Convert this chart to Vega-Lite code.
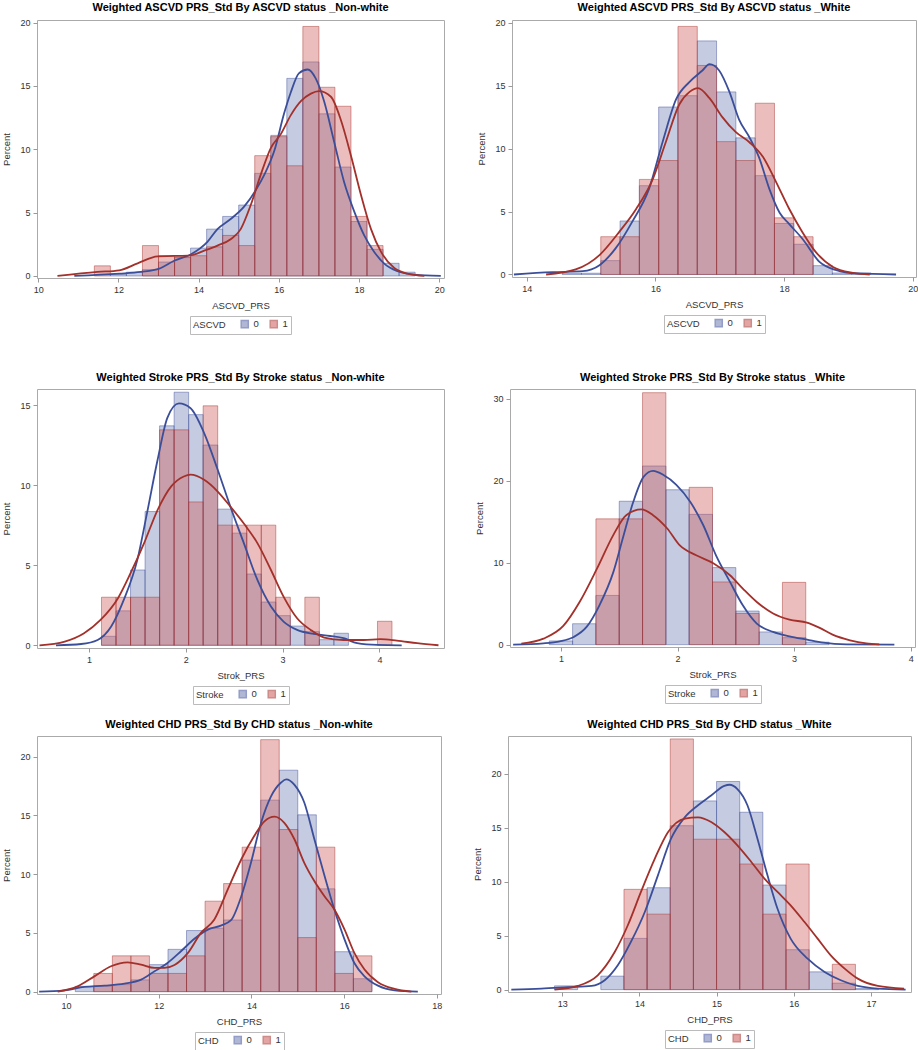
{
"$schema": "https://vega.github.io/schema/vega-lite/v6.json",
"padding": {"left": 1, "top": 1, "right": 0, "bottom": 0},
"background": "white",
"datasets": {
"bars": [
{"p":1,"g":"0","x":11.8,"x2":12.2,"pct":0.15},{"p":1,"g":"0","x":12.2,"x2":12.6,"pct":0.3},{"p":1,"g":"0","x":12.6,"x2":13.0,"pct":0.5},{"p":1,"g":"0","x":13.0,"x2":13.4,"pct":1.1},{"p":1,"g":"0","x":13.4,"x2":13.8,"pct":1.45},{"p":1,"g":"0","x":13.8,"x2":14.2,"pct":2.2},{"p":1,"g":"0","x":14.2,"x2":14.6,"pct":3.7},{"p":1,"g":"0","x":14.6,"x2":15.0,"pct":4.7},{"p":1,"g":"0","x":15.0,"x2":15.4,"pct":5.6},{"p":1,"g":"0","x":15.4,"x2":15.8,"pct":8.1},{"p":1,"g":"0","x":15.8,"x2":16.2,"pct":11.1},{"p":1,"g":"0","x":16.2,"x2":16.6,"pct":15.6},{"p":1,"g":"0","x":16.6,"x2":17.0,"pct":16.9},{"p":1,"g":"0","x":17.0,"x2":17.4,"pct":12.8},{"p":1,"g":"0","x":17.4,"x2":17.8,"pct":8.6},{"p":1,"g":"0","x":17.8,"x2":18.2,"pct":4.3},{"p":1,"g":"0","x":18.2,"x2":18.6,"pct":2.1},{"p":1,"g":"0","x":18.6,"x2":19.0,"pct":1.0},{"p":1,"g":"0","x":19.0,"x2":19.4,"pct":0.3},
{"p":1,"g":"1","x":11.4,"x2":11.8,"pct":0.8},{"p":1,"g":"1","x":12.6,"x2":13.0,"pct":2.4},{"p":1,"g":"1","x":13.0,"x2":13.4,"pct":1.6},{"p":1,"g":"1","x":13.4,"x2":13.8,"pct":1.5},{"p":1,"g":"1","x":13.8,"x2":14.2,"pct":1.6},{"p":1,"g":"1","x":14.2,"x2":14.6,"pct":2.3},{"p":1,"g":"1","x":14.6,"x2":15.0,"pct":3.2},{"p":1,"g":"1","x":15.0,"x2":15.4,"pct":2.4},{"p":1,"g":"1","x":15.4,"x2":15.8,"pct":9.5},{"p":1,"g":"1","x":15.8,"x2":16.2,"pct":11.0},{"p":1,"g":"1","x":16.2,"x2":16.6,"pct":8.7},{"p":1,"g":"1","x":16.6,"x2":17.0,"pct":19.7},{"p":1,"g":"1","x":17.0,"x2":17.4,"pct":14.9},{"p":1,"g":"1","x":17.4,"x2":17.8,"pct":13.4},{"p":1,"g":"1","x":17.8,"x2":18.2,"pct":4.7},{"p":1,"g":"1","x":18.2,"x2":18.6,"pct":2.4},
{"p":2,"g":"0","x":14.55,"x2":14.85,"pct":0.1},{"p":2,"g":"0","x":14.85,"x2":15.15,"pct":0.1},{"p":2,"g":"0","x":15.15,"x2":15.45,"pct":1.1},{"p":2,"g":"0","x":15.45,"x2":15.75,"pct":4.25},{"p":2,"g":"0","x":15.75,"x2":16.05,"pct":7.05},{"p":2,"g":"0","x":16.05,"x2":16.35,"pct":13.3},{"p":2,"g":"0","x":16.35,"x2":16.65,"pct":14.2},{"p":2,"g":"0","x":16.65,"x2":16.95,"pct":18.55},{"p":2,"g":"0","x":16.95,"x2":17.25,"pct":14.5},{"p":2,"g":"0","x":17.25,"x2":17.55,"pct":10.85},{"p":2,"g":"0","x":17.55,"x2":17.85,"pct":7.85},{"p":2,"g":"0","x":17.85,"x2":18.15,"pct":4.05},{"p":2,"g":"0","x":18.15,"x2":18.45,"pct":2.4},{"p":2,"g":"0","x":18.45,"x2":18.75,"pct":0.7},{"p":2,"g":"0","x":18.75,"x2":19.05,"pct":0.12},{"p":2,"g":"0","x":19.05,"x2":19.35,"pct":0.12},
{"p":2,"g":"1","x":15.15,"x2":15.45,"pct":3.0},{"p":2,"g":"1","x":15.45,"x2":15.75,"pct":3.0},{"p":2,"g":"1","x":15.75,"x2":16.05,"pct":7.55},{"p":2,"g":"1","x":16.05,"x2":16.35,"pct":9.05},{"p":2,"g":"1","x":16.35,"x2":16.65,"pct":19.7},{"p":2,"g":"1","x":16.65,"x2":16.95,"pct":16.6},{"p":2,"g":"1","x":16.95,"x2":17.25,"pct":10.55},{"p":2,"g":"1","x":17.25,"x2":17.55,"pct":9.05},{"p":2,"g":"1","x":17.55,"x2":17.85,"pct":13.6},{"p":2,"g":"1","x":17.85,"x2":18.15,"pct":4.5},{"p":2,"g":"1","x":18.15,"x2":18.45,"pct":3.0},
{"p":3,"g":"0","x":1.13,"x2":1.28,"pct":0.56},{"p":3,"g":"0","x":1.28,"x2":1.43,"pct":2.15},{"p":3,"g":"0","x":1.43,"x2":1.58,"pct":4.7},{"p":3,"g":"0","x":1.58,"x2":1.73,"pct":8.35},{"p":3,"g":"0","x":1.73,"x2":1.88,"pct":13.7},{"p":3,"g":"0","x":1.88,"x2":2.03,"pct":15.8},{"p":3,"g":"0","x":2.03,"x2":2.18,"pct":14.4},{"p":3,"g":"0","x":2.18,"x2":2.33,"pct":12.5},{"p":3,"g":"0","x":2.33,"x2":2.48,"pct":8.5},{"p":3,"g":"0","x":2.48,"x2":2.63,"pct":7.0},{"p":3,"g":"0","x":2.63,"x2":2.78,"pct":4.45},{"p":3,"g":"0","x":2.78,"x2":2.93,"pct":2.7},{"p":3,"g":"0","x":2.93,"x2":3.08,"pct":1.85},{"p":3,"g":"0","x":3.08,"x2":3.23,"pct":1.2},{"p":3,"g":"0","x":3.23,"x2":3.38,"pct":0.85},{"p":3,"g":"0","x":3.38,"x2":3.53,"pct":0.35},{"p":3,"g":"0","x":3.53,"x2":3.68,"pct":0.75},
{"p":3,"g":"1","x":1.13,"x2":1.28,"pct":3.0},{"p":3,"g":"1","x":1.28,"x2":1.43,"pct":3.0},{"p":3,"g":"1","x":1.43,"x2":1.58,"pct":3.0},{"p":3,"g":"1","x":1.58,"x2":1.73,"pct":3.0},{"p":3,"g":"1","x":1.73,"x2":1.88,"pct":13.45},{"p":3,"g":"1","x":1.88,"x2":2.03,"pct":13.45},{"p":3,"g":"1","x":2.03,"x2":2.18,"pct":8.95},{"p":3,"g":"1","x":2.18,"x2":2.33,"pct":14.95},{"p":3,"g":"1","x":2.33,"x2":2.48,"pct":7.5},{"p":3,"g":"1","x":2.48,"x2":2.63,"pct":7.5},{"p":3,"g":"1","x":2.63,"x2":2.78,"pct":7.5},{"p":3,"g":"1","x":2.78,"x2":2.93,"pct":7.5},{"p":3,"g":"1","x":2.93,"x2":3.08,"pct":3.0},{"p":3,"g":"1","x":3.23,"x2":3.38,"pct":3.0},{"p":3,"g":"1","x":3.98,"x2":4.13,"pct":1.5},
{"p":4,"g":"0","x":0.9,"x2":1.1,"pct":0.45},{"p":4,"g":"0","x":1.1,"x2":1.3,"pct":2.55},{"p":4,"g":"0","x":1.3,"x2":1.5,"pct":6.0},{"p":4,"g":"0","x":1.5,"x2":1.7,"pct":17.5},{"p":4,"g":"0","x":1.7,"x2":1.9,"pct":21.8},{"p":4,"g":"0","x":1.9,"x2":2.1,"pct":18.9},{"p":4,"g":"0","x":2.1,"x2":2.3,"pct":15.9},{"p":4,"g":"0","x":2.3,"x2":2.5,"pct":9.4},{"p":4,"g":"0","x":2.5,"x2":2.7,"pct":4.1},{"p":4,"g":"0","x":2.7,"x2":2.9,"pct":1.55},{"p":4,"g":"0","x":2.9,"x2":3.1,"pct":0.85},{"p":4,"g":"0","x":3.1,"x2":3.3,"pct":0.3},
{"p":4,"g":"1","x":1.3,"x2":1.5,"pct":15.35},{"p":4,"g":"1","x":1.5,"x2":1.7,"pct":15.35},{"p":4,"g":"1","x":1.7,"x2":1.9,"pct":30.75},{"p":4,"g":"1","x":2.1,"x2":2.3,"pct":19.2},{"p":4,"g":"1","x":2.3,"x2":2.5,"pct":7.65},{"p":4,"g":"1","x":2.5,"x2":2.7,"pct":3.8},{"p":4,"g":"1","x":2.9,"x2":3.1,"pct":7.6},
{"p":5,"g":"0","x":10.2,"x2":10.6,"pct":0.45},{"p":5,"g":"0","x":10.6,"x2":11.0,"pct":0.5},{"p":5,"g":"0","x":11.0,"x2":11.4,"pct":0.6},{"p":5,"g":"0","x":11.4,"x2":11.8,"pct":1.0},{"p":5,"g":"0","x":11.8,"x2":12.2,"pct":2.3},{"p":5,"g":"0","x":12.2,"x2":12.6,"pct":3.6},{"p":5,"g":"0","x":12.6,"x2":13.0,"pct":5.2},{"p":5,"g":"0","x":13.0,"x2":13.4,"pct":5.4},{"p":5,"g":"0","x":13.4,"x2":13.8,"pct":6.1},{"p":5,"g":"0","x":13.8,"x2":14.2,"pct":11.2},{"p":5,"g":"0","x":14.2,"x2":14.6,"pct":16.3},{"p":5,"g":"0","x":14.6,"x2":15.0,"pct":18.85},{"p":5,"g":"0","x":15.0,"x2":15.4,"pct":15.05},{"p":5,"g":"0","x":15.4,"x2":15.8,"pct":8.75},{"p":5,"g":"0","x":15.8,"x2":16.2,"pct":3.4},{"p":5,"g":"0","x":16.2,"x2":16.6,"pct":1.1},
{"p":5,"g":"1","x":10.6,"x2":11.0,"pct":1.55},{"p":5,"g":"1","x":11.0,"x2":11.4,"pct":3.05},{"p":5,"g":"1","x":11.4,"x2":11.8,"pct":3.05},{"p":5,"g":"1","x":11.8,"x2":12.2,"pct":1.55},{"p":5,"g":"1","x":12.2,"x2":12.6,"pct":1.55},{"p":5,"g":"1","x":12.6,"x2":13.0,"pct":3.05},{"p":5,"g":"1","x":13.0,"x2":13.4,"pct":7.7},{"p":5,"g":"1","x":13.4,"x2":13.8,"pct":9.2},{"p":5,"g":"1","x":13.8,"x2":14.2,"pct":12.3},{"p":5,"g":"1","x":14.2,"x2":14.6,"pct":21.45},{"p":5,"g":"1","x":14.6,"x2":15.0,"pct":13.8},{"p":5,"g":"1","x":15.0,"x2":15.4,"pct":4.6},{"p":5,"g":"1","x":15.4,"x2":15.8,"pct":12.3},{"p":5,"g":"1","x":15.8,"x2":16.2,"pct":1.55},{"p":5,"g":"1","x":16.2,"x2":16.6,"pct":3.05},
{"p":6,"g":"0","x":12.9,"x2":13.2,"pct":0.35},{"p":6,"g":"0","x":13.5,"x2":13.8,"pct":1.25},{"p":6,"g":"0","x":13.8,"x2":14.1,"pct":4.75},{"p":6,"g":"0","x":14.1,"x2":14.4,"pct":9.45},{"p":6,"g":"0","x":14.4,"x2":14.7,"pct":15.2},{"p":6,"g":"0","x":14.7,"x2":15.0,"pct":17.5},{"p":6,"g":"0","x":15.0,"x2":15.3,"pct":19.3},{"p":6,"g":"0","x":15.3,"x2":15.6,"pct":16.45},{"p":6,"g":"0","x":15.6,"x2":15.9,"pct":9.7},{"p":6,"g":"0","x":15.9,"x2":16.2,"pct":3.7},{"p":6,"g":"0","x":16.2,"x2":16.5,"pct":1.65},{"p":6,"g":"0","x":16.5,"x2":16.8,"pct":0.6},{"p":6,"g":"0","x":16.8,"x2":17.1,"pct":0.1},
{"p":6,"g":"1","x":13.8,"x2":14.1,"pct":9.3},{"p":6,"g":"1","x":14.1,"x2":14.4,"pct":7.0},{"p":6,"g":"1","x":14.4,"x2":14.7,"pct":23.25},{"p":6,"g":"1","x":14.7,"x2":15.0,"pct":13.95},{"p":6,"g":"1","x":15.0,"x2":15.3,"pct":13.95},{"p":6,"g":"1","x":15.3,"x2":15.6,"pct":11.65},{"p":6,"g":"1","x":15.6,"x2":15.9,"pct":7.0},{"p":6,"g":"1","x":15.9,"x2":16.2,"pct":11.65},{"p":6,"g":"1","x":16.5,"x2":16.8,"pct":2.35}
],
"curves": [
{"p":1,"g":"0","x":10.9,"pct":0},{"p":1,"g":"0","x":12.02,"pct":0.18},{"p":1,"g":"0","x":12.56,"pct":0.32},{"p":1,"g":"0","x":13.02,"pct":0.58},{"p":1,"g":"0","x":13.39,"pct":1.2},{"p":1,"g":"0","x":13.8,"pct":1.7},{"p":1,"g":"0","x":14.22,"pct":2.7},{"p":1,"g":"0","x":14.47,"pct":3.7},{"p":1,"g":"0","x":14.8,"pct":4.5},{"p":1,"g":"0","x":15.14,"pct":5.5},{"p":1,"g":"0","x":15.43,"pct":6.8},{"p":1,"g":"0","x":15.64,"pct":8.0},{"p":1,"g":"0","x":15.89,"pct":9.9},{"p":1,"g":"0","x":16.13,"pct":12.8},{"p":1,"g":"0","x":16.3,"pct":14.5},{"p":1,"g":"0","x":16.5,"pct":16.0},{"p":1,"g":"0","x":16.72,"pct":16.3},{"p":1,"g":"0","x":16.92,"pct":15.6},{"p":1,"g":"0","x":17.13,"pct":13.8},{"p":1,"g":"0","x":17.38,"pct":10.6},{"p":1,"g":"0","x":17.63,"pct":7.4},{"p":1,"g":"0","x":17.88,"pct":5.1},{"p":1,"g":"0","x":18.13,"pct":3.2},{"p":1,"g":"0","x":18.38,"pct":1.9},{"p":1,"g":"0","x":18.63,"pct":0.97},{"p":1,"g":"0","x":18.96,"pct":0.37},{"p":1,"g":"0","x":19.38,"pct":0.1},{"p":1,"g":"0","x":20.04,"pct":0},
{"p":1,"g":"1","x":10.48,"pct":0},{"p":1,"g":"1","x":11.48,"pct":0.32},{"p":1,"g":"1","x":12.02,"pct":0.45},{"p":1,"g":"1","x":12.48,"pct":1.0},{"p":1,"g":"1","x":12.98,"pct":1.55},{"p":1,"g":"1","x":13.39,"pct":1.58},{"p":1,"g":"1","x":13.8,"pct":1.63},{"p":1,"g":"1","x":14.14,"pct":2.0},{"p":1,"g":"1","x":14.47,"pct":2.4},{"p":1,"g":"1","x":14.8,"pct":2.9},{"p":1,"g":"1","x":15.05,"pct":3.7},{"p":1,"g":"1","x":15.3,"pct":5.6},{"p":1,"g":"1","x":15.55,"pct":8.0},{"p":1,"g":"1","x":15.8,"pct":10.1},{"p":1,"g":"1","x":16.05,"pct":11.2},{"p":1,"g":"1","x":16.3,"pct":12.7},{"p":1,"g":"1","x":16.55,"pct":13.8},{"p":1,"g":"1","x":16.8,"pct":14.4},{"p":1,"g":"1","x":17.0,"pct":14.6},{"p":1,"g":"1","x":17.3,"pct":14.15},{"p":1,"g":"1","x":17.55,"pct":12.3},{"p":1,"g":"1","x":17.8,"pct":9.5},{"p":1,"g":"1","x":18.05,"pct":6.4},{"p":1,"g":"1","x":18.3,"pct":3.7},{"p":1,"g":"1","x":18.55,"pct":1.9},{"p":1,"g":"1","x":18.88,"pct":0.63},{"p":1,"g":"1","x":19.21,"pct":0.18},{"p":1,"g":"1","x":19.63,"pct":0},
{"p":2,"g":"0","x":13.8,"pct":0},{"p":2,"g":"0","x":14.4,"pct":0.18},{"p":2,"g":"0","x":14.87,"pct":0.26},{"p":2,"g":"0","x":15.13,"pct":0.74},{"p":2,"g":"0","x":15.38,"pct":2.07},{"p":2,"g":"0","x":15.64,"pct":4.2},{"p":2,"g":"0","x":15.9,"pct":6.8},{"p":2,"g":"0","x":16.11,"pct":10.5},{"p":2,"g":"0","x":16.32,"pct":13.9},{"p":2,"g":"0","x":16.53,"pct":15.3},{"p":2,"g":"0","x":16.73,"pct":16.2},{"p":2,"g":"0","x":16.84,"pct":16.7},{"p":2,"g":"0","x":16.99,"pct":16.2},{"p":2,"g":"0","x":17.15,"pct":14.5},{"p":2,"g":"0","x":17.3,"pct":12.3},{"p":2,"g":"0","x":17.46,"pct":10.9},{"p":2,"g":"0","x":17.61,"pct":9.3},{"p":2,"g":"0","x":17.77,"pct":6.8},{"p":2,"g":"0","x":17.93,"pct":4.9},{"p":2,"g":"0","x":18.08,"pct":4.0},{"p":2,"g":"0","x":18.29,"pct":2.8},{"p":2,"g":"0","x":18.55,"pct":1.0},{"p":2,"g":"0","x":18.81,"pct":0.34},{"p":2,"g":"0","x":19.12,"pct":0.08},{"p":2,"g":"0","x":19.74,"pct":0},
{"p":2,"g":"1","x":14.3,"pct":0},{"p":2,"g":"1","x":14.76,"pct":0.4},{"p":2,"g":"1","x":15.13,"pct":1.54},{"p":2,"g":"1","x":15.44,"pct":3.4},{"p":2,"g":"1","x":15.7,"pct":5.2},{"p":2,"g":"1","x":15.96,"pct":7.6},{"p":2,"g":"1","x":16.16,"pct":10.5},{"p":2,"g":"1","x":16.37,"pct":13.5},{"p":2,"g":"1","x":16.53,"pct":14.5},{"p":2,"g":"1","x":16.66,"pct":14.8},{"p":2,"g":"1","x":16.84,"pct":14.0},{"p":2,"g":"1","x":17.04,"pct":12.5},{"p":2,"g":"1","x":17.25,"pct":11.3},{"p":2,"g":"1","x":17.46,"pct":10.5},{"p":2,"g":"1","x":17.67,"pct":9.35},{"p":2,"g":"1","x":17.87,"pct":7.4},{"p":2,"g":"1","x":18.08,"pct":5.2},{"p":2,"g":"1","x":18.28,"pct":3.4},{"p":2,"g":"1","x":18.49,"pct":1.8},{"p":2,"g":"1","x":18.76,"pct":0.6},{"p":2,"g":"1","x":19.07,"pct":0.13},{"p":2,"g":"1","x":19.33,"pct":0},
{"p":3,"g":"0","x":0.66,"pct":0},{"p":3,"g":"0","x":0.92,"pct":0.08},{"p":3,"g":"0","x":1.09,"pct":0.33},{"p":3,"g":"0","x":1.23,"pct":1.17},{"p":3,"g":"0","x":1.36,"pct":2.83},{"p":3,"g":"0","x":1.5,"pct":5.33},{"p":3,"g":"0","x":1.6,"pct":8.25},{"p":3,"g":"0","x":1.71,"pct":11.6},{"p":3,"g":"0","x":1.81,"pct":14.2},{"p":3,"g":"0","x":1.93,"pct":15.1},{"p":3,"g":"0","x":2.05,"pct":14.8},{"p":3,"g":"0","x":2.19,"pct":13.25},{"p":3,"g":"0","x":2.33,"pct":10.96},{"p":3,"g":"0","x":2.46,"pct":8.67},{"p":3,"g":"0","x":2.6,"pct":6.38},{"p":3,"g":"0","x":2.74,"pct":4.08},{"p":3,"g":"0","x":2.88,"pct":2.42},{"p":3,"g":"0","x":3.01,"pct":1.48},{"p":3,"g":"0","x":3.15,"pct":0.96},{"p":3,"g":"0","x":3.32,"pct":0.71},{"p":3,"g":"0","x":3.49,"pct":0.58},{"p":3,"g":"0","x":3.63,"pct":0.44},{"p":3,"g":"0","x":3.77,"pct":0.13},{"p":3,"g":"0","x":3.98,"pct":0.02},{"p":3,"g":"0","x":4.23,"pct":0},
{"p":3,"g":"1","x":0.49,"pct":0},{"p":3,"g":"1","x":0.75,"pct":0.23},{"p":3,"g":"1","x":0.95,"pct":0.75},{"p":3,"g":"1","x":1.12,"pct":1.58},{"p":3,"g":"1","x":1.3,"pct":2.94},{"p":3,"g":"1","x":1.43,"pct":4.5},{"p":3,"g":"1","x":1.57,"pct":6.38},{"p":3,"g":"1","x":1.71,"pct":8.46},{"p":3,"g":"1","x":1.85,"pct":9.92},{"p":3,"g":"1","x":1.98,"pct":10.54},{"p":3,"g":"1","x":2.05,"pct":10.65},{"p":3,"g":"1","x":2.19,"pct":10.33},{"p":3,"g":"1","x":2.33,"pct":9.6},{"p":3,"g":"1","x":2.46,"pct":8.67},{"p":3,"g":"1","x":2.6,"pct":7.6},{"p":3,"g":"1","x":2.74,"pct":6.38},{"p":3,"g":"1","x":2.88,"pct":4.7},{"p":3,"g":"1","x":3.01,"pct":3.04},{"p":3,"g":"1","x":3.15,"pct":1.69},{"p":3,"g":"1","x":3.29,"pct":0.96},{"p":3,"g":"1","x":3.43,"pct":0.48},{"p":3,"g":"1","x":3.63,"pct":0.33},{"p":3,"g":"1","x":3.84,"pct":0.33},{"p":3,"g":"1","x":4.01,"pct":0.38},{"p":3,"g":"1","x":4.18,"pct":0.29},{"p":3,"g":"1","x":4.39,"pct":0.13},{"p":3,"g":"1","x":4.61,"pct":0},
{"p":4,"g":"0","x":0.59,"pct":0},{"p":4,"g":"0","x":0.85,"pct":0.16},{"p":4,"g":"0","x":0.99,"pct":0.41},{"p":4,"g":"0","x":1.11,"pct":0.94},{"p":4,"g":"0","x":1.22,"pct":2.16},{"p":4,"g":"0","x":1.33,"pct":4.8},{"p":4,"g":"0","x":1.45,"pct":8.88},{"p":4,"g":"0","x":1.53,"pct":12.95},{"p":4,"g":"0","x":1.62,"pct":17.4},{"p":4,"g":"0","x":1.71,"pct":20.5},{"p":4,"g":"0","x":1.79,"pct":21.2},{"p":4,"g":"0","x":1.88,"pct":20.7},{"p":4,"g":"0","x":1.99,"pct":19.5},{"p":4,"g":"0","x":2.11,"pct":17.4},{"p":4,"g":"0","x":2.22,"pct":14.6},{"p":4,"g":"0","x":2.33,"pct":10.9},{"p":4,"g":"0","x":2.45,"pct":7.66},{"p":4,"g":"0","x":2.56,"pct":4.8},{"p":4,"g":"0","x":2.68,"pct":2.57},{"p":4,"g":"0","x":2.82,"pct":1.55},{"p":4,"g":"0","x":2.96,"pct":1.02},{"p":4,"g":"0","x":3.11,"pct":0.61},{"p":4,"g":"0","x":3.25,"pct":0.24},{"p":4,"g":"0","x":3.45,"pct":0.04},{"p":4,"g":"0","x":3.86,"pct":0},
{"p":4,"g":"1","x":0.66,"pct":0.12},{"p":4,"g":"1","x":0.85,"pct":0.73},{"p":4,"g":"1","x":1.02,"pct":2.28},{"p":4,"g":"1","x":1.16,"pct":5.2},{"p":4,"g":"1","x":1.31,"pct":9.3},{"p":4,"g":"1","x":1.45,"pct":13.4},{"p":4,"g":"1","x":1.56,"pct":15.8},{"p":4,"g":"1","x":1.69,"pct":16.5},{"p":4,"g":"1","x":1.79,"pct":15.8},{"p":4,"g":"1","x":1.91,"pct":14.2},{"p":4,"g":"1","x":2.02,"pct":12.1},{"p":4,"g":"1","x":2.16,"pct":10.9},{"p":4,"g":"1","x":2.31,"pct":9.9},{"p":4,"g":"1","x":2.45,"pct":8.47},{"p":4,"g":"1","x":2.56,"pct":6.84},{"p":4,"g":"1","x":2.68,"pct":5.2},{"p":4,"g":"1","x":2.82,"pct":3.8},{"p":4,"g":"1","x":2.96,"pct":3.05},{"p":4,"g":"1","x":3.11,"pct":2.69},{"p":4,"g":"1","x":3.22,"pct":2.04},{"p":4,"g":"1","x":3.33,"pct":1.22},{"p":4,"g":"1","x":3.48,"pct":0.53},{"p":4,"g":"1","x":3.62,"pct":0.16},{"p":4,"g":"1","x":3.73,"pct":0.04},
{"p":5,"g":"0","x":9.42,"pct":0},{"p":5,"g":"0","x":9.96,"pct":0.11},{"p":5,"g":"0","x":10.4,"pct":0.4},{"p":5,"g":"0","x":10.83,"pct":0.51},{"p":5,"g":"0","x":11.26,"pct":0.68},{"p":5,"g":"0","x":11.62,"pct":1.02},{"p":5,"g":"0","x":11.91,"pct":1.73},{"p":5,"g":"0","x":12.19,"pct":2.44},{"p":5,"g":"0","x":12.48,"pct":3.44},{"p":5,"g":"0","x":12.77,"pct":4.5},{"p":5,"g":"0","x":13.06,"pct":5.28},{"p":5,"g":"0","x":13.34,"pct":5.62},{"p":5,"g":"0","x":13.56,"pct":6.08},{"p":5,"g":"0","x":13.78,"pct":8.1},{"p":5,"g":"0","x":13.99,"pct":10.97},{"p":5,"g":"0","x":14.21,"pct":14.4},{"p":5,"g":"0","x":14.42,"pct":16.6},{"p":5,"g":"0","x":14.64,"pct":17.8},{"p":5,"g":"0","x":14.75,"pct":18.07},{"p":5,"g":"0","x":14.93,"pct":17.6},{"p":5,"g":"0","x":15.14,"pct":16.1},{"p":5,"g":"0","x":15.36,"pct":12.95},{"p":5,"g":"0","x":15.58,"pct":9.83},{"p":5,"g":"0","x":15.79,"pct":6.99},{"p":5,"g":"0","x":16.01,"pct":4.43},{"p":5,"g":"0","x":16.22,"pct":2.44},{"p":5,"g":"0","x":16.44,"pct":1.31},{"p":5,"g":"0","x":16.73,"pct":0.51},{"p":5,"g":"0","x":17.09,"pct":0.11},{"p":5,"g":"0","x":17.59,"pct":0},
{"p":5,"g":"1","x":9.82,"pct":0},{"p":5,"g":"1","x":10.25,"pct":0.45},{"p":5,"g":"1","x":10.61,"pct":1.3},{"p":5,"g":"1","x":10.97,"pct":2.16},{"p":5,"g":"1","x":11.33,"pct":2.5},{"p":5,"g":"1","x":11.62,"pct":2.3},{"p":5,"g":"1","x":11.91,"pct":2.02},{"p":5,"g":"1","x":12.12,"pct":2.02},{"p":5,"g":"1","x":12.34,"pct":2.27},{"p":5,"g":"1","x":12.63,"pct":3.3},{"p":5,"g":"1","x":12.91,"pct":5.0},{"p":5,"g":"1","x":13.2,"pct":6.14},{"p":5,"g":"1","x":13.49,"pct":8.7},{"p":5,"g":"1","x":13.78,"pct":11.25},{"p":5,"g":"1","x":14.06,"pct":13.24},{"p":5,"g":"1","x":14.28,"pct":14.5},{"p":5,"g":"1","x":14.5,"pct":14.9},{"p":5,"g":"1","x":14.71,"pct":14.37},{"p":5,"g":"1","x":14.93,"pct":12.95},{"p":5,"g":"1","x":15.14,"pct":10.97},{"p":5,"g":"1","x":15.36,"pct":9.4},{"p":5,"g":"1","x":15.58,"pct":8.1},{"p":5,"g":"1","x":15.79,"pct":6.99},{"p":5,"g":"1","x":16.01,"pct":5.28},{"p":5,"g":"1","x":16.22,"pct":3.3},{"p":5,"g":"1","x":16.44,"pct":1.88},{"p":5,"g":"1","x":16.73,"pct":0.8},{"p":5,"g":"1","x":17.09,"pct":0.23},{"p":5,"g":"1","x":17.45,"pct":0},
{"p":6,"g":"0","x":12.34,"pct":0},{"p":6,"g":"0","x":12.73,"pct":0.09},{"p":6,"g":"0","x":13.07,"pct":0.22},{"p":6,"g":"0","x":13.38,"pct":0.34},{"p":6,"g":"0","x":13.55,"pct":0.87},{"p":6,"g":"0","x":13.72,"pct":2.26},{"p":6,"g":"0","x":13.89,"pct":4.42},{"p":6,"g":"0","x":14.07,"pct":7.2},{"p":6,"g":"0","x":14.24,"pct":10.6},{"p":6,"g":"0","x":14.41,"pct":14.0},{"p":6,"g":"0","x":14.59,"pct":16.0},{"p":6,"g":"0","x":14.76,"pct":17.1},{"p":6,"g":"0","x":14.93,"pct":18.0},{"p":6,"g":"0","x":15.1,"pct":18.9},{"p":6,"g":"0","x":15.17,"pct":19.0},{"p":6,"g":"0","x":15.27,"pct":18.6},{"p":6,"g":"0","x":15.4,"pct":17.1},{"p":6,"g":"0","x":15.53,"pct":14.0},{"p":6,"g":"0","x":15.66,"pct":10.6},{"p":6,"g":"0","x":15.79,"pct":7.5},{"p":6,"g":"0","x":15.96,"pct":4.73},{"p":6,"g":"0","x":16.18,"pct":2.87},{"p":6,"g":"0","x":16.4,"pct":1.64},{"p":6,"g":"0","x":16.61,"pct":0.87},{"p":6,"g":"0","x":16.83,"pct":0.34},{"p":6,"g":"0","x":17.09,"pct":0.09},{"p":6,"g":"0","x":17.45,"pct":0},
{"p":6,"g":"1","x":12.9,"pct":0},{"p":6,"g":"1","x":13.2,"pct":0.34},{"p":6,"g":"1","x":13.46,"pct":1.33},{"p":6,"g":"1","x":13.68,"pct":3.49},{"p":6,"g":"1","x":13.85,"pct":5.97},{"p":6,"g":"1","x":14.02,"pct":9.06},{"p":6,"g":"1","x":14.2,"pct":12.15},{"p":6,"g":"1","x":14.37,"pct":14.6},{"p":6,"g":"1","x":14.59,"pct":15.86},{"p":6,"g":"1","x":14.76,"pct":15.98},{"p":6,"g":"1","x":14.93,"pct":15.55},{"p":6,"g":"1","x":15.1,"pct":14.62},{"p":6,"g":"1","x":15.27,"pct":13.38},{"p":6,"g":"1","x":15.45,"pct":11.84},{"p":6,"g":"1","x":15.62,"pct":10.3},{"p":6,"g":"1","x":15.79,"pct":9.06},{"p":6,"g":"1","x":15.96,"pct":7.82},{"p":6,"g":"1","x":16.14,"pct":6.27},{"p":6,"g":"1","x":16.31,"pct":4.73},{"p":6,"g":"1","x":16.48,"pct":3.18},{"p":6,"g":"1","x":16.66,"pct":1.95},{"p":6,"g":"1","x":16.83,"pct":1.02},{"p":6,"g":"1","x":17.09,"pct":0.34},{"p":6,"g":"1","x":17.43,"pct":0.09}
]
},
"spacing": 36,
"resolve": {"scale": {"fill": "independent", "stroke": "independent"}, "legend": {"fill": "independent", "stroke": "independent"}},
"vconcat": [
{"hconcat": [
{"width": 407, "height": 258, "title": "Weighted ASCVD PRS_Std By ASCVD status _Non-white",
 "encoding": {
  "x": {"field": "x", "type": "quantitative", "scale": {"domain": [9.97, 20.12], "nice": false, "zero": false}, "axis": {"values": [10, 12, 14, 16, 18, 20], "title": "ASCVD_PRS"}},
  "y": {"field": "pct", "type": "quantitative", "scale": {"domain": [-0.16, 20.21], "nice": false, "zero": false}, "axis": {"values": [0, 5, 10, 15, 20], "title": "Percent"}},
  "stroke": {"field": "g", "type": "nominal", "scale": {"domain": ["0", "1"], "range": ["#3B4E9A", "#A3302A"]}, "legend": null}},
 "layer": [
  {"data": {"name": "bars"}, "transform": [{"filter": "datum.p == 1"}], "mark": {"type": "rect", "fillOpacity": 0.4, "strokeOpacity": 0.45, "strokeWidth": 1},
   "encoding": {"x2": {"field": "x2"}, "y2": {"datum": 0}, "fill": {"field": "g", "type": "nominal", "scale": {"domain": ["0", "1"], "range": ["#6F7EB3", "#D05B5B"]}, "legend": {"title": "ASCVD"}}}},
  {"data": {"name": "curves"}, "transform": [{"filter": "datum.p == 1"}], "mark": {"type": "line", "interpolate": "monotone", "strokeWidth": 1.8}, "encoding": {}}
 ]},
{"width": 404, "height": 257, "title": "Weighted ASCVD PRS_Std By ASCVD status _White",
 "encoding": {
  "x": {"field": "x", "type": "quantitative", "scale": {"domain": [13.77, 20.05], "nice": false, "zero": false}, "axis": {"values": [14, 16, 18, 20], "title": "ASCVD_PRS"}},
  "y": {"field": "pct", "type": "quantitative", "scale": {"domain": [-0.2, 20.21], "nice": false, "zero": false}, "axis": {"values": [0, 5, 10, 15, 20], "title": "Percent"}},
  "stroke": {"field": "g", "type": "nominal", "scale": {"domain": ["0", "1"], "range": ["#3B4E9A", "#A3302A"]}, "legend": null}},
 "layer": [
  {"data": {"name": "bars"}, "transform": [{"filter": "datum.p == 2"}], "mark": {"type": "rect", "fillOpacity": 0.4, "strokeOpacity": 0.45, "strokeWidth": 1},
   "encoding": {"x2": {"field": "x2"}, "y2": {"datum": 0}, "fill": {"field": "g", "type": "nominal", "scale": {"domain": ["0", "1"], "range": ["#6F7EB3", "#D05B5B"]}, "legend": {"title": "ASCVD"}}}},
  {"data": {"name": "curves"}, "transform": [{"filter": "datum.p == 2"}], "mark": {"type": "line", "interpolate": "monotone", "strokeWidth": 1.8}, "encoding": {}}
 ]}
], "spacing": 31, "resolve": {"scale": {"fill": "independent", "stroke": "independent"}, "legend": {"fill": "independent", "stroke": "independent"}}},
{"vconcat": [
{"hconcat": [
{"width": 407, "height": 259, "title": "Weighted Stroke PRS_Std By Stroke status _Non-white",
 "encoding": {
  "x": {"field": "x", "type": "quantitative", "scale": {"domain": [0.464, 4.667], "nice": false, "zero": false}, "axis": {"values": [1, 2, 3, 4], "title": "Strok_PRS"}},
  "y": {"field": "pct", "type": "quantitative", "scale": {"domain": [-0.17, 16.0], "nice": false, "zero": false}, "axis": {"values": [0, 5, 10, 15], "title": "Percent"}},
  "stroke": {"field": "g", "type": "nominal", "scale": {"domain": ["0", "1"], "range": ["#3B4E9A", "#A3302A"]}, "legend": null}},
 "layer": [
  {"data": {"name": "bars"}, "transform": [{"filter": "datum.p == 3"}], "mark": {"type": "rect", "fillOpacity": 0.4, "strokeOpacity": 0.45, "strokeWidth": 1},
   "encoding": {"x2": {"field": "x2"}, "y2": {"datum": 0}, "fill": {"field": "g", "type": "nominal", "scale": {"domain": ["0", "1"], "range": ["#6F7EB3", "#D05B5B"]}, "legend": {"title": "Stroke"}}}},
  {"data": {"name": "curves"}, "transform": [{"filter": "datum.p == 3"}], "mark": {"type": "line", "interpolate": "monotone", "strokeWidth": 1.8}, "encoding": {}}
 ]},
{"width": 405, "height": 258, "title": "Weighted Stroke PRS_Std By Stroke status _White",
 "encoding": {
  "x": {"field": "x", "type": "quantitative", "scale": {"domain": [0.563, 4.037], "nice": false, "zero": false}, "axis": {"values": [1, 2, 3, 4], "title": "Strok_PRS"}},
  "y": {"field": "pct", "type": "quantitative", "scale": {"domain": [-0.29, 31.2], "nice": false, "zero": false}, "axis": {"values": [0, 10, 20, 30], "title": "Percent"}},
  "stroke": {"field": "g", "type": "nominal", "scale": {"domain": ["0", "1"], "range": ["#3B4E9A", "#A3302A"]}, "legend": null}},
 "layer": [
  {"data": {"name": "bars"}, "transform": [{"filter": "datum.p == 4"}], "mark": {"type": "rect", "fillOpacity": 0.4, "strokeOpacity": 0.45, "strokeWidth": 1},
   "encoding": {"x2": {"field": "x2"}, "y2": {"datum": 0}, "fill": {"field": "g", "type": "nominal", "scale": {"domain": ["0", "1"], "range": ["#6F7EB3", "#D05B5B"]}, "legend": {"title": "Stroke"}}}},
  {"data": {"name": "curves"}, "transform": [{"filter": "datum.p == 4"}], "mark": {"type": "line", "interpolate": "monotone", "strokeWidth": 1.8}, "encoding": {}}
 ]}
], "spacing": 29, "resolve": {"scale": {"fill": "independent", "stroke": "independent"}, "legend": {"fill": "independent", "stroke": "independent"}}},
{"hconcat": [
{"width": 404, "height": 258, "title": "Weighted CHD PRS_Std By CHD status _Non-white",
 "encoding": {
  "x": {"field": "x", "type": "quantitative", "scale": {"domain": [9.374, 18.09], "nice": false, "zero": false}, "axis": {"values": [10, 12, 14, 16, 18], "title": "CHD_PRS"}},
  "y": {"field": "pct", "type": "quantitative", "scale": {"domain": [-0.2, 21.76], "nice": false, "zero": false}, "axis": {"values": [0, 5, 10, 15, 20], "title": "Percent"}},
  "stroke": {"field": "g", "type": "nominal", "scale": {"domain": ["0", "1"], "range": ["#3B4E9A", "#A3302A"]}, "legend": null}},
 "layer": [
  {"data": {"name": "bars"}, "transform": [{"filter": "datum.p == 5"}], "mark": {"type": "rect", "fillOpacity": 0.4, "strokeOpacity": 0.45, "strokeWidth": 1},
   "encoding": {"x2": {"field": "x2"}, "y2": {"datum": 0}, "fill": {"field": "g", "type": "nominal", "scale": {"domain": ["0", "1"], "range": ["#6F7EB3", "#D05B5B"]}, "legend": {"title": "CHD"}}}},
  {"data": {"name": "curves"}, "transform": [{"filter": "datum.p == 5"}], "mark": {"type": "line", "interpolate": "monotone", "strokeWidth": 1.8}, "encoding": {}}
 ]},
{"width": 403, "height": 256, "title": "Weighted CHD PRS_Std By CHD status _White",
 "encoding": {
  "x": {"field": "x", "type": "quantitative", "scale": {"domain": [12.297, 17.52], "nice": false, "zero": false}, "axis": {"values": [13, 14, 15, 16, 17], "title": "CHD_PRS"}},
  "y": {"field": "pct", "type": "quantitative", "scale": {"domain": [-0.22, 23.52], "nice": false, "zero": false}, "axis": {"values": [0, 5, 10, 15, 20], "title": "Percent"}},
  "stroke": {"field": "g", "type": "nominal", "scale": {"domain": ["0", "1"], "range": ["#3B4E9A", "#A3302A"]}, "legend": null}},
 "layer": [
  {"data": {"name": "bars"}, "transform": [{"filter": "datum.p == 6"}], "mark": {"type": "rect", "fillOpacity": 0.4, "strokeOpacity": 0.45, "strokeWidth": 1},
   "encoding": {"x2": {"field": "x2"}, "y2": {"datum": 0}, "fill": {"field": "g", "type": "nominal", "scale": {"domain": ["0", "1"], "range": ["#6F7EB3", "#D05B5B"]}, "legend": {"title": "CHD"}}}},
  {"data": {"name": "curves"}, "transform": [{"filter": "datum.p == 6"}], "mark": {"type": "line", "interpolate": "monotone", "strokeWidth": 1.8}, "encoding": {}}
 ]}
], "spacing": 29, "resolve": {"scale": {"fill": "independent", "stroke": "independent"}, "legend": {"fill": "independent", "stroke": "independent"}}}
], "spacing": 13, "resolve": {"scale": {"fill": "independent", "stroke": "independent"}, "legend": {"fill": "independent", "stroke": "independent"}}}
],
"config": {
 "font": "Liberation Sans",
 "view": {"stroke": "#aaaaaa", "strokeWidth": 1},
 "title": {"fontSize": 11, "fontWeight": "bold", "color": "#000000", "offset": 6, "font": "Liberation Sans"},
 "axis": {"grid": false, "domain": false, "ticks": true, "tickColor": "#999999", "tickSize": 4, "labelFont": "Liberation Sans", "labelFontSize": 9, "labelColor": "#333333", "titleFont": "Liberation Sans", "titleFontSize": 9.5, "titleFontWeight": "normal", "titleColor": "#333333", "labelPadding": 3, "titlePadding": 6},
 "axisY": {"titlePadding": 8},
 "legend": {"orient": "bottom", "direction": "horizontal", "titleOrient": "left", "strokeColor": "#bbbbbb", "padding": 3, "titleFont": "Liberation Sans", "labelFont": "Liberation Sans", "titleFontSize": 9.5, "titleFontWeight": "normal", "titleColor": "#333333", "labelFontSize": 9.5, "labelColor": "#333333", "symbolSize": 50, "symbolType": "square", "symbolOpacity": 0.55, "columnPadding": 8, "offset": 6, "titlePadding": 14, "layout": {"bottom": {"anchor": "middle"}}}
}
}
